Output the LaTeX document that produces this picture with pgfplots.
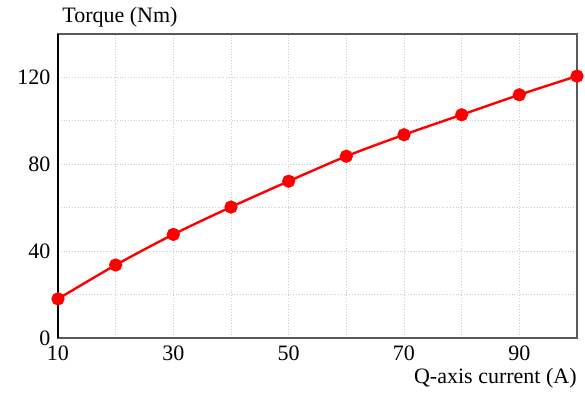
\documentclass[border=0pt]{standalone}
\usepackage{fontspec}
\setmainfont{Liberation Serif}
\usepackage{pgfplots}
\pgfplotsset{compat=1.18}
\begin{document}
\fontsize{11}{13}\selectfont
\begin{tikzpicture}
\useasboundingbox (-29pt,-28pt) rectangle (263.5pt,169pt);
\begin{axis}[
  at={(0,0)}, anchor=south west,
  scale only axis, width=259.5pt, height=152pt,
  xmin=10, xmax=100, ymin=0, ymax=140,
  xtick={10,30,50,70,90}, minor xtick={20,40,60,80,100},
  xticklabels={10,30,50,70,90},
  ytick={0,40,80,120}, minor ytick={20,60,100},
  yticklabels={0,40,80,120},
  grid=both,
  grid style={densely dotted, gray!40, line width=0.4pt},
  minor grid style={densely dotted, gray!40, line width=0.4pt},
  major tick length=0pt, minor tick length=0pt,
  axis line style={gray!70!black, line width=0.8pt},
  tick label style={font=\fontsize{11}{13}\selectfont\rmfamily},
  xticklabel style={yshift=0pt},
  clip=false,
]
\addplot[red, line width=1.2pt, smooth, mark=*, mark size=2.7pt, mark options={fill=red, draw=red}]
coordinates {(10,18) (20,33.6) (30,47.7) (40,60.3) (50,72.2) (60,83.7) (70,93.6) (80,102.8) (90,112) (100,120.6)};
\draw[black, line width=0.8pt] (rel axis cs:0,0) -- (rel axis cs:0,1);
\node[anchor=west, inner sep=0pt] at ([xshift=2pt,yshift=8.5pt]rel axis cs:0,1) {Torque (Nm)};
\node[anchor=east, inner sep=0pt] at ([yshift=-20pt]rel axis cs:1,0) {Q-axis current (A)};
\end{axis}
\end{tikzpicture}
\end{document}
